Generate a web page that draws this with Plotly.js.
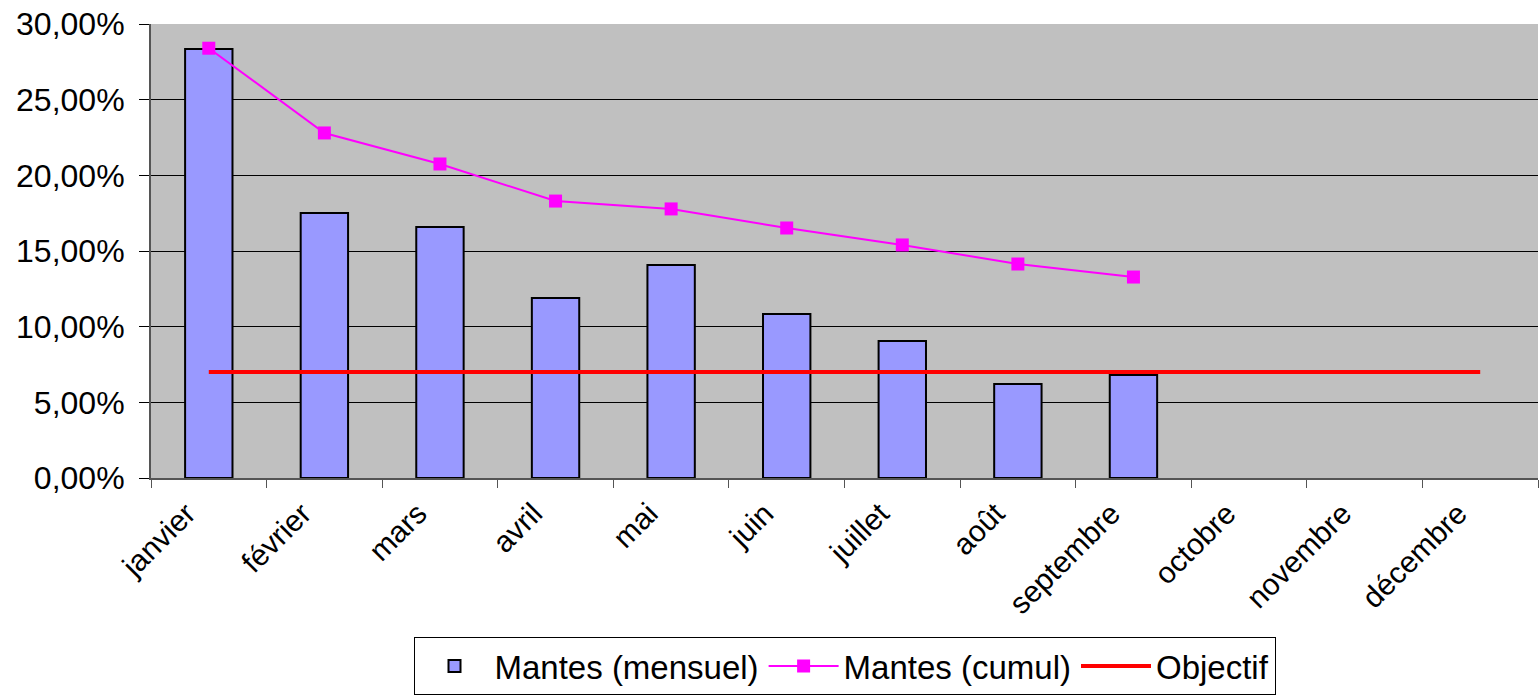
<!DOCTYPE html>
<html><head><meta charset="utf-8">
<script src="https://cdn.plot.ly/plotly-3.0.1.min.js"></script>
<style>body{margin:0;background:#fff}#c{width:1539px;height:700px}</style>
</head><body><div id="c"></div>
<script>
const months = ["janvier","février","mars","avril","mai","juin","juillet","août","septembre","octobre","novembre","décembre"];
const mensuel = [0.2835,0.1751,0.1659,0.1190,0.1408,0.1084,0.0905,0.0621,0.0680,null,null,null];
const cumul = [0.2840,0.2280,0.2075,0.1830,0.1778,0.1652,0.1540,0.1414,0.1328,null,null,null];
const objectif = [0.07,0.07,0.07,0.07,0.07,0.07,0.07,0.07,0.07,0.07,0.07,0.07];

const font = "Liberation Sans, Arial, sans-serif";
const data = [
  {type:"bar", name:"Mantes (mensuel)", x:months, y:mensuel,
   marker:{color:"#9999FF", line:{color:"#000", width:2}}, width:0.41},
  {type:"scatter", mode:"lines+markers", name:"Mantes (cumul)", x:months, y:cumul,
   line:{color:"#FF00FF", width:2}, marker:{symbol:"square", size:13, color:"#FF00FF"}},
  {type:"scatter", mode:"lines", name:"Objectif", x:months, y:objectif,
   line:{color:"#FF0000", width:4}}
];
const layout = {
  width:1539, height:700,
  margin:{l:151, r:1, t:24, b:222},
  paper_bgcolor:"#fff", plot_bgcolor:"#C0C0C0",
  separators:", ",
  font:{family:font, color:"#000", size:28},
  showlegend:true,
  legend:{orientation:"h", x:0.5, xanchor:"center", y:-0.478, yanchor:"bottom",
    bordercolor:"#000", borderwidth:1, font:{size:33, family:font}, traceorder:"normal",
    itemwidth:70, tracegroupgap:0},
  xaxis:{type:"category", tickangle:-45, ticks:"outside", ticklen:8, tickcolor:"#555",
    tickson:"boundaries", showline:true, linecolor:"#555", linewidth:2, mirror:false,
    showgrid:false, tickfont:{size:30}, range:[-0.5,11.5], automargin:false,
    ticklabelshift:-22, ticklabelstandoff:4},
  yaxis:{range:[0,0.30], dtick:0.05, tickformat:".2%", ticks:"outside", ticklen:10,
    tickcolor:"#000", showline:true, linecolor:"#555", linewidth:2,
    gridcolor:"#000", gridwidth:1, zeroline:false, tickfont:{size:32}, automargin:false,
    ticklabelstandoff:8},
  bargap:0.59
};
Plotly.newPlot("c", data, layout, {displayModeBar:false});
</script>
</body></html>
